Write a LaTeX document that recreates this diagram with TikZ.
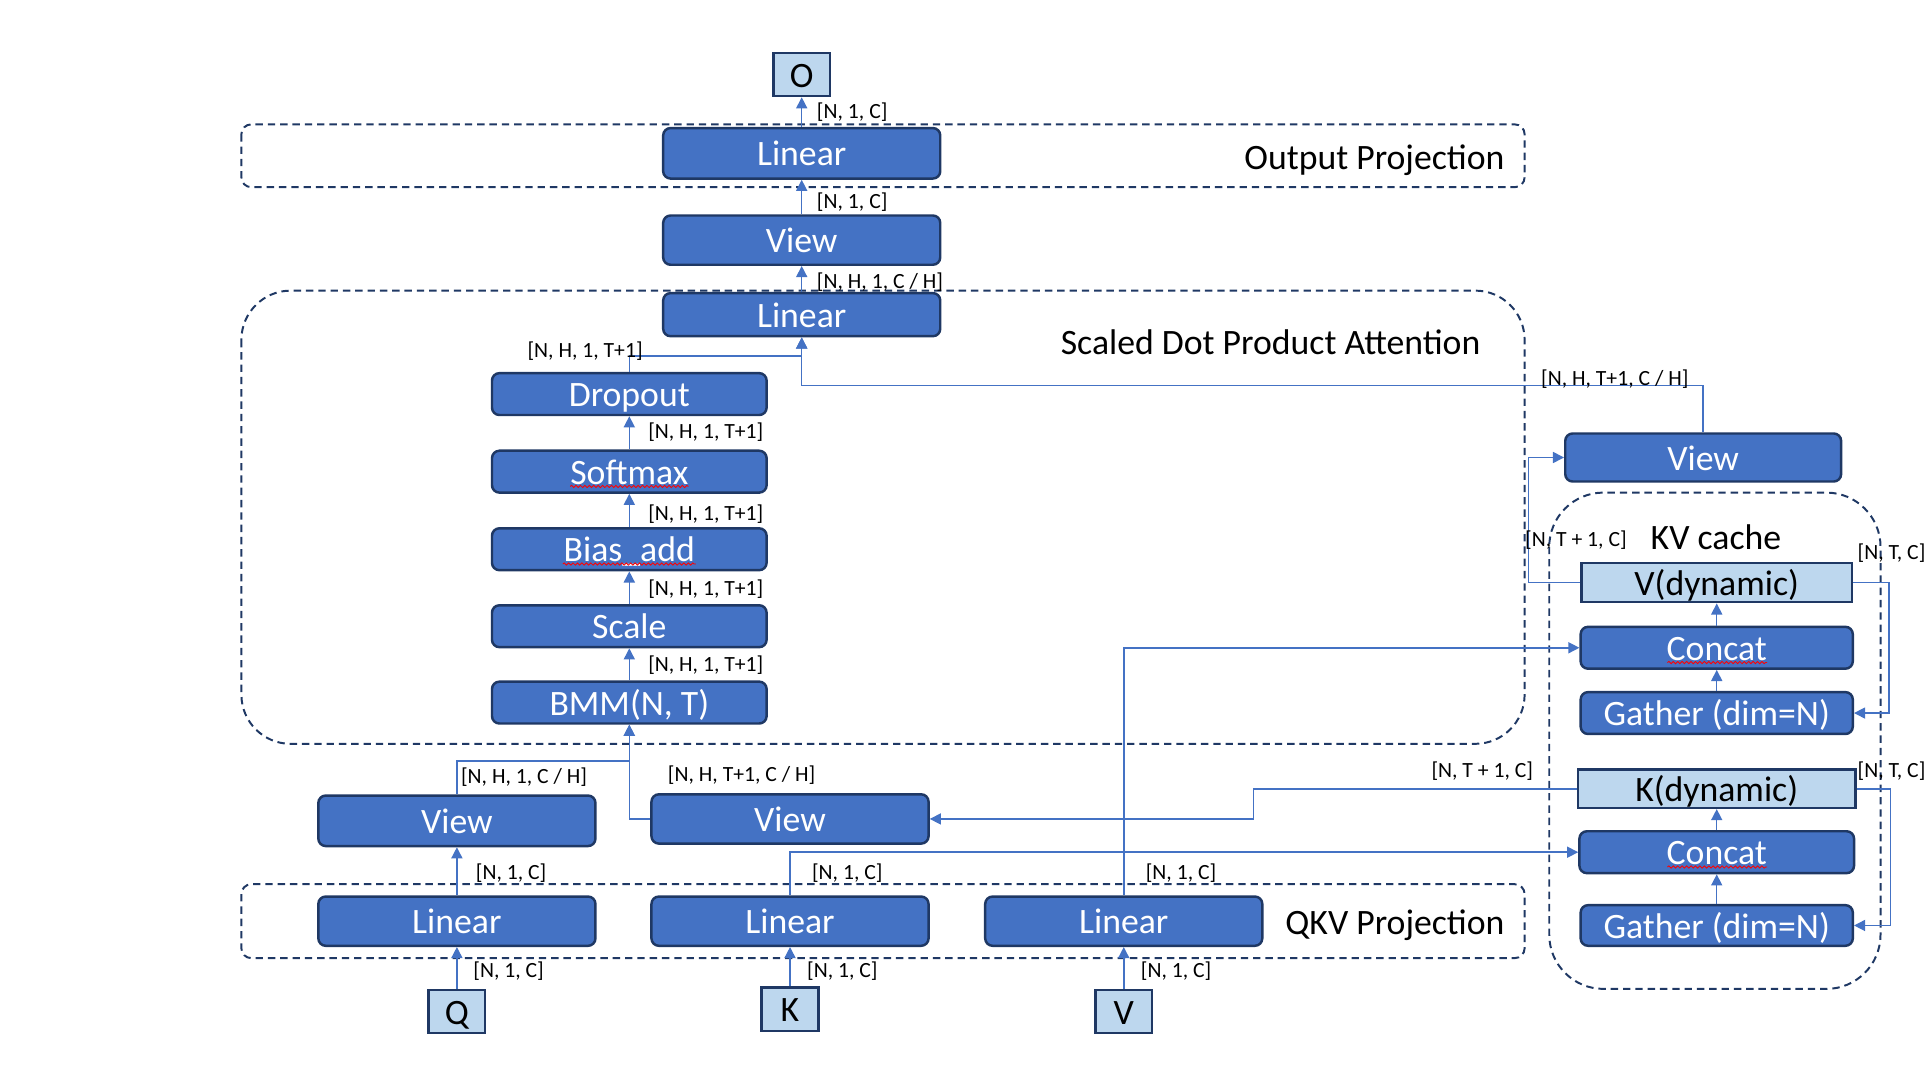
\documentclass[tikz,border=0pt]{standalone}
\usepackage{fontspec}
\setmainfont{Carlito}
\usetikzlibrary{arrows.meta,decorations.pathmorphing,calc}
\definecolor{boxblue}{HTML}{4472C4}
\definecolor{navy}{HTML}{1F3864}
\definecolor{lightblue}{HTML}{BDD7EE}
\definecolor{lineblue}{HTML}{4472C4}
\begin{document}
\begin{tikzpicture}[x=0.5pt,y=-0.5pt,
  opbox/.style={draw=navy, line width=1pt, fill=boxblue, rounded corners=3pt, text=white,
    font=\fontsize{14.5}{16}\selectfont, minimum width=112.5pt, minimum height=17.5pt, inner sep=0pt,
    text height=10.3pt, text depth=0pt},
  attnbox/.style={opbox, minimum width=111.5pt, minimum height=17pt},
  kvbox/.style={opbox, minimum width=110.5pt, minimum height=17pt},
  iobox/.style={draw=navy, line width=1pt, fill=lightblue, text=black,
    font=\fontsize{14.5}{16}\selectfont, minimum width=23pt, minimum height=17.5pt, inner sep=0pt,
    text height=10.3pt, text depth=0pt},
  dynbox/.style={iobox, minimum width=110pt, minimum height=16pt},
  frame/.style={draw=navy, line width=0.8pt, dash pattern=on 3pt off 2pt},
  conn/.style={draw=lineblue, line width=0.6pt, -{Triangle[width=4.5pt,length=4.5pt]}},
  lab/.style={font=\fontsize{8.8}{10}\selectfont, anchor=west, inner sep=0pt, text=black, yshift=-0.9pt},
  ttl/.style={font=\fontsize{14.5}{16}\selectfont, inner sep=0pt, text=black},
  wavy/.style={draw=red, line width=0.35pt, decorate, decoration={snake, amplitude=0.45pt, segment length=1.8pt}}
]
\useasboundingbox (0,0) rectangle (1568,881);

% dashed frames
\draw[frame, rounded corners=4pt] (196,101) rectangle (1238,152);
\draw[frame, rounded corners=20pt] (196,236) rectangle (1238,604);
\draw[frame, rounded corners=4pt] (196,718) rectangle (1238,778);
\draw[frame, rounded corners=22pt] (1258,400) rectangle (1527,803);

% frame titles
\node[ttl, anchor=base east] (tOut) at (1222,137.5) {Output Projection};
\node[ttl, anchor=base west] (tSDPA) at (861,287.5) {Scaled Dot Product Attention};
\node[ttl, anchor=base east] (tQKV) at (1222,758.5) {QKV Projection};
\node[ttl, anchor=base west] (tKV) at (1340,446.5) {KV cache};

% output stack
\node[iobox] (O) at (651,60.5) {O};
\node[opbox, minimum height=20.5pt] (LinOut) at (651,124.5) {Linear};
\node[opbox, minimum height=20pt] (ViewOut) at (651,195) {View};
\node[opbox] (LinAttn) at (651,255.5) {Linear};

% attention stack
\node[attnbox] (Dropout) at (511,320) {Dropout};
\node[attnbox] (Softmax) at (511,383) {Softmax};
\node[attnbox] (Bias) at (511,446) {Bias\_add};
\node[attnbox] (Scale) at (511,508.5) {Scale};
\node[attnbox] (BMM) at (511,570.5) {BMM(N, T)};

% QKV
\node[opbox, minimum height=20.5pt] (ViewQ) at (371,666.5) {View};
\node[opbox, minimum height=20pt] (ViewK) at (641.5,665) {View};
\node[opbox, minimum height=20pt] (LinQ) at (371,748) {Linear};
\node[opbox, minimum height=20pt] (LinK) at (641.5,748) {Linear};
\node[opbox, minimum height=20pt] (LinV) at (912.5,748) {Linear};
\node[iobox] (Q) at (371,821.5) {Q};
\node[iobox] (K) at (641.5,819.5) {K};
\node[iobox] (V) at (912.5,821.5) {V};

% KV cache side
\node[opbox, minimum width=112pt, minimum height=19.5pt] (ViewV) at (1383,371.5) {View};
\node[dynbox] (Vdyn) at (1394,473) {V(dynamic)};
\node[kvbox] (ConcatV) at (1394,526) {Concat};
\node[kvbox] (GatherV) at (1394,579) {Gather (dim=N)};
\node[dynbox, minimum width=112.5pt, minimum height=15.5pt] (Kdyn) at (1394,640.5) {K(dynamic)};
\node[kvbox, minimum width=111.5pt] (ConcatK) at (1394,692) {Concat};
\node[kvbox, minimum height=16.5pt] (GatherK) at (1394,751.5) {Gather (dim=N)};

% spell-check underlines
\draw[wavy] ($(Softmax.center)+(-48,12)$) -- ($(Softmax.center)+(48,12)$);
\draw[wavy] ($(Bias.center)+(-54,12)$) -- ($(Bias.center)+(54,12)$);
\draw[wavy] ($(ConcatV.center)+(-40,12)$) -- ($(ConcatV.center)+(41,12)$);
\draw[wavy] ($(ConcatK.center)+(-40,12)$) -- ($(ConcatK.center)+(41,12)$);

% joints
\coordinate (j1) at (651,289);
\coordinate (j2) at (651,313);
\coordinate (j3) at (511,618);
\coordinate (j4) at (1018,653);
\coordinate (j5) at (1241,420);
\coordinate (j6) at (1534,525);
\coordinate (j7) at (1535,700);

% connectors
\draw[conn] (LinOut.north) -- (O.south);
\draw[conn] (ViewOut.north) -- (LinOut.south);
\draw[conn] (LinAttn.north) -- (ViewOut.south);
\draw[conn] (Dropout.north) |- (j1) -- (LinAttn.south);
\draw[conn] (ViewV.north) |- (j2) -- (LinAttn.south);
\draw[conn] (Softmax.north) -- (Dropout.south);
\draw[conn] (Bias.north) -- (Softmax.south);
\draw[conn] (Scale.north) -- (Bias.south);
\draw[conn] (BMM.north) -- (Scale.south);
\draw[conn] (ViewQ.north) |- (j3) -- (BMM.south);
\draw[conn] (ViewK.west) -| (BMM.south);
\draw[conn] (LinQ.north) -- (ViewQ.south);
\draw[conn] (Q.north) -- (LinQ.south);
\draw[conn] (K.north) -- (LinK.south);
\draw[conn] (V.north) -- (LinV.south);
\draw[conn] (LinK.north) |- (ConcatK.west);
\draw[conn] (LinV.north) |- (ConcatV.west);
\draw[conn] (Kdyn.west) -| (j4) |- (ViewK.east);
\draw[conn] (Vdyn.west) -| (j5) |- (ViewV.west);
\draw[conn] (Vdyn.east) -| (j6) |- (GatherV.east);
\draw[conn] (Kdyn.east) -| (j7) |- (GatherK.east);
\draw[conn] (GatherV.north) -- (ConcatV.south);
\draw[conn] (ConcatV.north) -- (Vdyn.south);
\draw[conn] (GatherK.north) -- (ConcatK.south);
\draw[conn] (ConcatK.north) -- (Kdyn.south);

% shape labels
\node[lab] (l1) at (663,89) {[N, 1, C]};
\node[lab] (l2) at (663,162) {[N, 1, C]};
\node[lab] (l3) at (663,227) {[N, H, 1, C / H]};
\node[lab] (l4) at (428,283) {[N, H, 1, T+1]};
\node[lab] (l5) at (1251,306) {[N, H, T+1, C / H]};
\node[lab] (l6) at (526,349) {[N, H, 1, T+1]};
\node[lab] (l7) at (526,416) {[N, H, 1, T+1]};
\node[lab] (l8) at (526,477) {[N, H, 1, T+1]};
\node[lab] (l9) at (526,538) {[N, H, 1, T+1]};
\node[lab] (l10) at (374,629) {[N, H, 1, C / H]};
\node[lab] (l11) at (542,628) {[N, H, T+1, C / H]};
\node[lab] (l12) at (1162,624) {[N, T + 1, C]};
\node[lab] (l13) at (386,707) {[N, 1, C]};
\node[lab] (l14) at (659,707) {[N, 1, C]};
\node[lab] (l15) at (930,707) {[N, 1, C]};
\node[lab] (l16) at (384,787) {[N, 1, C]};
\node[lab] (l17) at (655,787) {[N, 1, C]};
\node[lab] (l18) at (926,787) {[N, 1, C]};
\node[lab] (l19) at (1238,437) {[N, T + 1, C]};
\node[lab] (l20) at (1508,447) {[N, T, C]};
\node[lab] (l21) at (1508,624) {[N, T, C]};
\end{tikzpicture}
\end{document}
